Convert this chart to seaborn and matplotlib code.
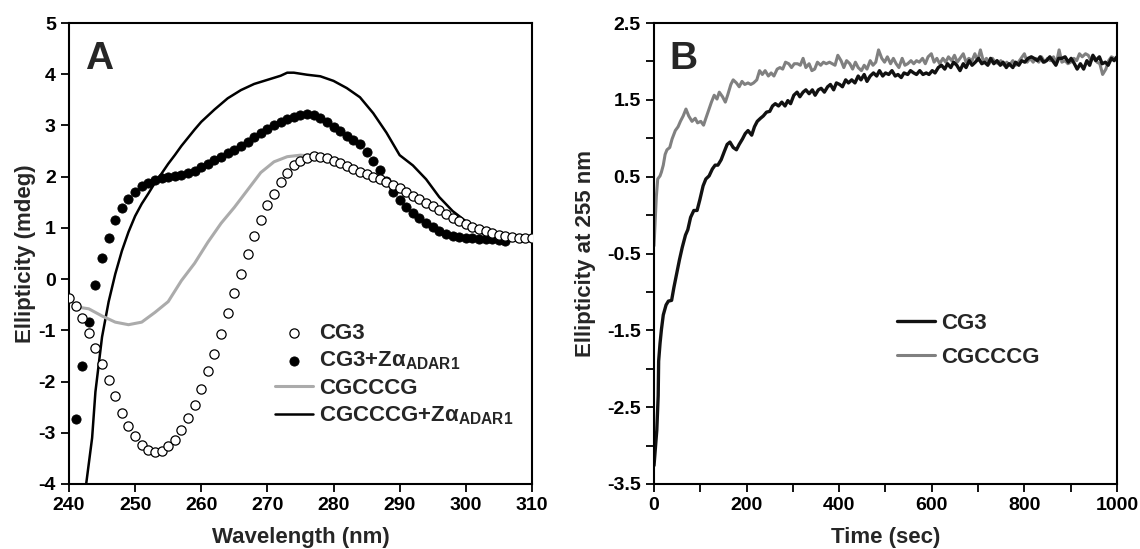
import matplotlib
matplotlib.use('Agg')
import matplotlib.pyplot as plt
import matplotlib.ticker as mticker
import seaborn as sns
import pandas as pd

# ---- panel A : CD spectra ----
wl_cg3 = list(range(240, 311))
cg3 = [-0.37, -0.53, -0.75, -1.06, -1.35, -1.65, -1.96, -2.29, -2.61, -2.86,
       -3.07, -3.24, -3.34, -3.38, -3.36, -3.25, -3.14, -2.94, -2.72, -2.46,
       -2.14, -1.80, -1.46, -1.08, -0.66, -0.27, 0.10, 0.49, 0.84, 1.15,
       1.44, 1.67, 1.90, 2.07, 2.22, 2.31, 2.36, 2.40, 2.39, 2.36,
       2.31, 2.26, 2.20, 2.15, 2.10, 2.05, 2.00, 1.95, 1.89, 1.83,
       1.77, 1.70, 1.62, 1.56, 1.49, 1.42, 1.35, 1.27, 1.19, 1.13,
       1.07, 1.02, 0.98, 0.94, 0.90, 0.87, 0.84, 0.82, 0.80, 0.80, 0.80]

wl_cg3_z = list(range(241, 307))
cg3_z = [-2.74, -1.69, -0.83, -0.12, 0.41, 0.81, 1.15, 1.38, 1.57, 1.71,
         1.81, 1.88, 1.93, 1.97, 2.00, 2.01, 2.03, 2.07, 2.12, 2.18,
         2.25, 2.32, 2.39, 2.46, 2.52, 2.59, 2.68, 2.77, 2.86, 2.94,
         3.01, 3.07, 3.12, 3.17, 3.20, 3.23, 3.21, 3.14, 3.06, 2.97,
         2.89, 2.80, 2.72, 2.63, 2.49, 2.31, 2.13, 1.91, 1.71, 1.54,
         1.40, 1.30, 1.19, 1.09, 1.01, 0.94, 0.89, 0.84, 0.82, 0.81,
         0.80, 0.79, 0.79, 0.79, 0.77, 0.75]

wl_cgcccg = [241.5, 243, 245, 247, 249, 251, 253, 255, 257, 259, 261, 263, 265,
             267, 269, 271, 273, 275, 277, 280, 285, 290, 295, 300, 303, 306]
cgcccg = [-0.55, -0.58, -0.72, -0.84, -0.89, -0.84, -0.65, -0.44, -0.03, 0.31,
          0.72, 1.09, 1.40, 1.74, 2.08, 2.29, 2.39, 2.42, 2.40, 2.28, 2.02,
          1.72, 1.38, 1.05, 0.93, 0.83]

wl_cgcccg_z = [242.6, 243, 243.5, 244, 245, 246, 247, 248, 249, 250, 251, 252,
               253, 254, 255, 256, 257, 258, 259, 260, 262, 264, 266, 268, 270,
               272, 273, 274, 276, 278, 280, 282, 284, 286, 288, 290, 292, 294,
               296, 298, 300, 302, 304, 306]
cgcccg_z = [-4.0, -3.6, -3.1, -2.2, -1.13, -0.44, 0.10, 0.55, 0.92, 1.23, 1.47,
            1.67, 1.88, 2.06, 2.25, 2.42, 2.60, 2.76, 2.92, 3.07, 3.31, 3.53,
            3.69, 3.81, 3.89, 3.97, 4.03, 4.03, 3.99, 3.96, 3.87, 3.73, 3.55,
            3.24, 2.86, 2.42, 2.22, 1.95, 1.60, 1.33, 1.13, 0.92, 0.82, 0.75]

# ---- panel B : kinetics at 255 nm, (time sec, ellipticity) ----
kin_cg3 = [(0, -3.26), (3, -3.03), (6, -2.80), (9, -2.35), (10, -1.90), (13, -1.67),
           (16, -1.49), (20, -1.30), (26, -1.17), (31, -1.12), (38, -1.11), (43, -0.94),
           (49, -0.76), (55, -0.58), (61, -0.42), (68, -0.26), (73, -0.19), (79, -0.03),
           (86, 0.06), (93, 0.06), (99, 0.20), (106, 0.38), (112, 0.47), (119, 0.51),
           (126, 0.60), (132, 0.65), (138, 0.65), (145, 0.72), (152, 0.83), (158, 0.92),
           (164, 0.95), (171, 0.88), (178, 0.85), (184, 0.92), (191, 0.99), (197, 1.06),
           (203, 1.10), (211, 1.04), (217, 1.15), (223, 1.22), (230, 1.26), (236, 1.29),
           (243, 1.34), (250, 1.35), (256, 1.42), (262, 1.45), (269, 1.42), (276, 1.47),
           (283, 1.42), (289, 1.49), (295, 1.45), (302, 1.56), (309, 1.60), (315, 1.54),
           (322, 1.60), (328, 1.63), (335, 1.58), (342, 1.63), (348, 1.56), (355, 1.63),
           (361, 1.65), (368, 1.60), (375, 1.67), (381, 1.70), (388, 1.63), (394, 1.72),
           (401, 1.70), (407, 1.67), (414, 1.76), (420, 1.72), (427, 1.76), (434, 1.72),
           (441, 1.81), (447, 1.76), (454, 1.83), (460, 1.74), (467, 1.81), (474, 1.85),
           (481, 1.81), (487, 1.88), (494, 1.81), (500, 1.85), (507, 1.83), (514, 1.88),
           (521, 1.81), (527, 1.83), (534, 1.79), (540, 1.85), (548, 1.83), (554, 1.88),
           (561, 1.85), (567, 1.83), (574, 1.88), (581, 1.83), (588, 1.85), (594, 1.83),
           (601, 1.88), (607, 1.85), (614, 1.92), (621, 1.95), (628, 1.90), (634, 1.97),
           (641, 1.92), (647, 1.99), (654, 1.95), (661, 1.88), (668, 1.97), (674, 1.92),
           (681, 2.01), (687, 1.95), (694, 1.99), (701, 2.04), (708, 1.97), (714, 1.99),
           (721, 1.95), (727, 2.04), (734, 1.97), (741, 2.01), (748, 1.95), (754, 1.99),
           (761, 1.92), (767, 1.97), (775, 1.92), (781, 1.99), (788, 1.95), (794, 2.01),
           (801, 1.99), (808, 2.04), (815, 2.06), (821, 2.04), (828, 2.01), (834, 2.06),
           (841, 1.99), (848, 2.01), (855, 2.06), (861, 2.01), (868, 1.95), (874, 2.04),
           (881, 2.04), (888, 2.06), (895, 1.99), (901, 2.04), (908, 1.97), (914, 1.90),
           (921, 1.97), (928, 1.90), (935, 2.01), (941, 1.95), (948, 2.08), (954, 2.01),
           (962, 2.06), (968, 1.97), (975, 1.99), (981, 1.95), (988, 2.04), (994, 2.01),
           (1000, 2.06)]

kin_cgcccg = [(0, -0.40), (5, 0.24), (8, 0.47), (13, 0.51), (16, 0.56), (20, 0.65),
              (24, 0.79), (28, 0.85), (34, 0.88), (39, 0.99), (46, 1.10), (52, 1.15),
              (57, 1.22), (63, 1.29), (69, 1.38), (75, 1.29), (82, 1.22), (89, 1.26),
              (94, 1.20), (101, 1.22), (107, 1.17), (112, 1.26), (119, 1.38), (124, 1.47),
              (130, 1.56), (136, 1.51), (141, 1.60), (148, 1.54), (154, 1.47), (159, 1.56),
              (166, 1.70), (171, 1.76), (178, 1.72), (184, 1.67), (190, 1.74), (196, 1.70),
              (203, 1.72), (209, 1.70), (215, 1.72), (222, 1.76), (228, 1.88), (234, 1.83),
              (240, 1.88), (247, 1.81), (253, 1.85), (259, 1.81), (266, 1.90), (272, 1.92),
              (278, 1.90), (284, 1.99), (291, 1.97), (297, 1.92), (303, 1.97), (310, 1.97),
              (316, 1.95), (322, 2.04), (328, 1.92), (335, 1.97), (341, 1.88), (347, 1.90),
              (353, 1.99), (360, 1.95), (366, 1.99), (372, 1.97), (379, 1.99), (385, 1.97),
              (391, 1.95), (397, 2.08), (404, 2.01), (410, 1.92), (416, 2.01), (423, 1.97),
              (429, 1.90), (435, 1.99), (441, 1.92), (448, 1.88), (454, 1.95), (460, 1.90),
              (467, 2.01), (473, 1.95), (479, 1.99), (485, 2.15), (492, 2.04), (498, 1.99),
              (504, 2.06), (511, 1.97), (517, 2.04), (523, 1.97), (529, 1.92), (536, 2.04),
              (542, 1.95), (548, 1.97), (555, 2.01), (561, 1.97), (567, 2.01), (573, 1.99),
              (580, 2.04), (586, 1.97), (592, 2.06), (599, 2.10), (605, 1.99), (611, 2.04),
              (617, 1.97), (624, 2.04), (630, 1.99), (636, 2.06), (643, 2.01), (649, 2.08),
              (655, 1.99), (661, 2.04), (668, 2.10), (674, 1.99), (680, 2.04), (687, 2.01),
              (693, 2.10), (699, 2.01), (705, 2.15), (712, 1.99), (718, 2.04), (724, 1.97),
              (731, 2.04), (737, 1.99), (744, 1.97), (749, 2.01), (756, 1.95), (762, 1.99),
              (768, 1.95), (775, 2.01), (781, 1.95), (787, 1.99), (793, 2.04), (800, 2.10),
              (806, 1.99), (812, 2.04), (819, 1.99), (825, 2.04), (831, 1.99), (837, 2.06),
              (844, 1.99), (850, 2.04), (856, 2.01), (863, 2.06), (869, 1.97), (875, 2.15),
              (881, 1.99), (888, 2.01), (894, 1.97), (900, 1.99), (907, 2.04), (913, 2.01),
              (919, 2.10), (925, 2.06), (932, 2.10), (938, 2.08), (944, 2.01), (951, 2.06),
              (957, 1.99), (963, 1.97), (969, 1.83), (976, 1.90), (982, 2.01), (988, 2.06),
              (994, 2.04), (1000, 2.04)]

sns.set_theme(style='ticks')
plt.rcParams['font.family'] = ['Liberation Sans', 'DejaVu Sans']
plt.rcParams['font.weight'] = 'bold'
plt.rcParams['axes.labelweight'] = 'bold'
plt.rcParams['axes.unicode_minus'] = False
plt.rcParams['mathtext.fontset'] = 'custom'
plt.rcParams['mathtext.rm'] = 'Liberation Sans:bold'
plt.rcParams['mathtext.it'] = 'Liberation Sans'
plt.rcParams['mathtext.bf'] = 'Liberation Sans:bold'

fig = plt.figure(figsize=(11.4, 5.49), dpi=100)
axA = fig.add_axes([0.0605, 0.1184, 0.4061, 0.8397])
axB = fig.add_axes([0.5737, 0.1184, 0.4061, 0.8397])

zlab = r'Z$\alpha_{\mathrm{ADAR1}}$'

# panel A
sns.lineplot(x=wl_cgcccg_z, y=cgcccg_z, ax=axA, color='black', lw=1.8,
             sort=False, estimator=None, label='CGCCCG+' + zlab)
sns.lineplot(x=wl_cgcccg, y=cgcccg, ax=axA, color='#ababab', lw=2.2,
             sort=False, estimator=None, label='CGCCCG')
sns.scatterplot(x=wl_cg3_z, y=cg3_z, ax=axA, color='black', s=44,
                edgecolor='black', linewidth=0.6, label='CG3+' + zlab, zorder=3)
sns.scatterplot(x=wl_cg3, y=cg3, ax=axA, color='white', s=44,
                edgecolor='black', linewidth=0.9, label='CG3', zorder=4)

axA.set_xlim(240, 310)
axA.set_ylim(-4, 5)
axA.xaxis.set_major_locator(mticker.MultipleLocator(10))
axA.yaxis.set_major_locator(mticker.MultipleLocator(1))
axA.set_xlabel('Wavelength (nm)', fontsize=16, labelpad=9)
axA.set_ylabel('Ellipticity (mdeg)', fontsize=16, labelpad=2)
axA.text(0.034, 0.962, 'A', transform=axA.transAxes, fontsize=28,
         fontweight='bold', va='top', ha='left')

h, l = axA.get_legend_handles_labels()
order = [3, 2, 1, 0]
axA.legend([h[i] for i in order], [l[i] for i in order], loc='center left',
           bbox_to_anchor=(0.445, 0.236), frameon=False, fontsize=16,
           handlelength=1.7, handletextpad=0.3, labelspacing=0.25,
           borderpad=0, borderaxespad=0)

# panel B
t1, v1 = zip(*kin_cg3)
t2, v2 = zip(*kin_cgcccg)
sns.lineplot(x=list(t2), y=list(v2), ax=axB, color='#808080', lw=2.2,
             sort=False, estimator=None, label='CGCCCG')
sns.lineplot(x=list(t1), y=list(v1), ax=axB, color='#111111', lw=2.4,
             sort=False, estimator=None, label='CG3')

axB.set_xlim(0, 1000)
axB.set_ylim(-3.5, 2.5)
axB.xaxis.set_major_locator(mticker.MultipleLocator(200))
axB.xaxis.set_minor_locator(mticker.MultipleLocator(100))
axB.yaxis.set_major_locator(mticker.FixedLocator([-3.5, -2.5, -1.5, -0.5, 0.5, 1.5, 2.5]))
axB.yaxis.set_minor_locator(mticker.FixedLocator([-3, -2, -1, 0, 1, 2]))
axB.set_xlabel('Time (sec)', fontsize=16, labelpad=9)
axB.set_ylabel('Ellipticity at 255 nm', fontsize=16, labelpad=8)
axB.text(0.034, 0.962, 'B', transform=axB.transAxes, fontsize=28,
         fontweight='bold', va='top', ha='left')

h, l = axB.get_legend_handles_labels()
axB.legend([h[1], h[0]], [l[1], l[0]], loc='center left',
           bbox_to_anchor=(0.525, 0.312), frameon=False, fontsize=16,
           handlelength=1.7, handletextpad=0.3, labelspacing=0.6,
           borderpad=0, borderaxespad=0)

for ax in (axA, axB):
    for sp in ax.spines.values():
        sp.set_visible(True)
        sp.set_linewidth(1.5)
        sp.set_color('black')
    ax.tick_params(which='both', direction='out', length=6, width=1.3,
                   colors='black', labelsize=14)
    for lab in ax.get_xticklabels() + ax.get_yticklabels():
        lab.set_fontweight('bold')

fig.savefig('out.png', dpi=100, facecolor='white')
